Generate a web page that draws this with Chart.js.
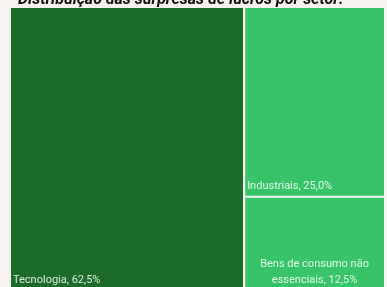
<!DOCTYPE html>
<html lang="pt">
<head>
  <meta charset="UTF-8">
  <title>Distribuição das surpresas de lucros por setor</title>
  <script src="https://cdn.jsdelivr.net/npm/chart.js@4.4.5/dist/chart.umd.min.js"></script>
  <style>
    html, body { margin: 0; padding: 0; background: #f6f2ef; overflow: hidden; }
    .chart-box { position: absolute; left: 0; top: 0; width: 387px; height: 300px; }
  </style>
</head>
<body>
  <div class="chart-box"><canvas id="treemapChart"></canvas></div>
  <script>
    // dados
    const sectors = ['Tecnologia', 'Industriais', 'Bens de consumo não essenciais'];
    const shares = [62.5, 25.0, 12.5];
    const colors = ['#1c6b29', '#36c466', '#36c466'];
    const chartTitle = 'Distribuição das surpresas de lucros por setor:';

    // simple layout: first sector takes a full-height column, the rest stack on the right
    function layout(values) {
      const total = values.reduce((a, b) => a + b, 0);
      const rects = [];
      const w0 = values[0] / total * 100;
      rects.push({ x0: 0, x1: w0, y0: 0, y1: 100 });
      const rest = total - values[0];
      let top = 100;
      for (let i = 1; i < values.length; i++) {
        const h = values[i] / rest * 100;
        rects.push({ x0: w0, x1: 100, y0: top - h, y1: top });
        top -= h;
      }
      return rects;
    }

    const rects = layout(shares);
    const gx = 0.27, gy = 0.35; // half gap in axis units

    const datasets = rects.map((r, i) => ({
      label: sectors[i],
      data: [
        { x: r.x0 + (r.x0 > 0 ? gx : 0), y: r.y1 - (r.y1 < 100 ? gy : 0) },
        { x: r.x1 - (r.x1 < 100 ? gx : 0), y: r.y1 - (r.y1 < 100 ? gy : 0) }
      ],
      fill: { value: r.y0 + (r.y0 > 0 ? gy : 0) },
      backgroundColor: colors[i],
      borderWidth: 0,
      pointRadius: 0,
      tension: 0
    }));

    function wrap(ctx, text, maxW) {
      const words = text.split(' ');
      const lines = [];
      let line = '';
      words.forEach(w => {
        const test = line ? line + ' ' + w : w;
        if (ctx.measureText(test).width > maxW && line) {
          lines.push(line);
          line = w;
        } else {
          line = test;
        }
      });
      lines.push(line);
      return lines;
    }

    const labelPlugin = {
      id: 'treeLabels',
      afterDatasetsDraw(chart) {
        const ctx = chart.ctx;
        const xs = chart.scales.x, ys = chart.scales.y;
        ctx.save();
        ctx.font = '11px Roboto, sans-serif';
        ctx.fillStyle = 'rgba(255,255,255,0.85)';
        ctx.textBaseline = 'alphabetic';
        rects.forEach((r, i) => {
          const left = xs.getPixelForValue(r.x0) + (r.x0 > 0 ? 1 : 0);
          const right = xs.getPixelForValue(r.x1);
          const bottom = ys.getPixelForValue(r.y0);
          const text = sectors[i] + ', ' + shares[i].toFixed(1).replace('.', ',') + '%';
          const lines = wrap(ctx, text, right - left - 6);
          const lh = 16;
          if (lines.length === 1) {
            ctx.textAlign = 'left';
            ctx.fillText(lines[0], left + 2, bottom - 8);
          } else {
            ctx.textAlign = 'center';
            const cx = (left + right) / 2;
            lines.forEach((l, k) => {
              ctx.fillText(l, cx, bottom - 8 - (lines.length - 1 - k) * lh);
            });
          }
        });
        ctx.restore();
      },
      afterDraw(chart) {
        const ctx = chart.ctx;
        ctx.save();
        ctx.font = 'italic bold 16px Roboto, sans-serif';
        ctx.fillStyle = '#111';
        ctx.textAlign = 'left';
        ctx.textBaseline = 'alphabetic';
        ctx.fillText(chartTitle, 18, 4);
        ctx.restore();
      }
    };

    new Chart(document.getElementById('treemapChart'), {
      type: 'line',
      data: { datasets: datasets },
      options: {
        responsive: true,
        maintainAspectRatio: false,
        animation: false,
        layout: { padding: { left: 11, right: 3, top: 8, bottom: 9 } },
        plugins: {
          legend: { display: false },
          tooltip: { enabled: false },
          title: { display: false }
        },
        scales: {
          x: { type: 'linear', min: 0, max: 100, display: false },
          y: { type: 'linear', min: 0, max: 100, display: false }
        }
      },
      plugins: [labelPlugin]
    });
  </script>
</body>
</html>
